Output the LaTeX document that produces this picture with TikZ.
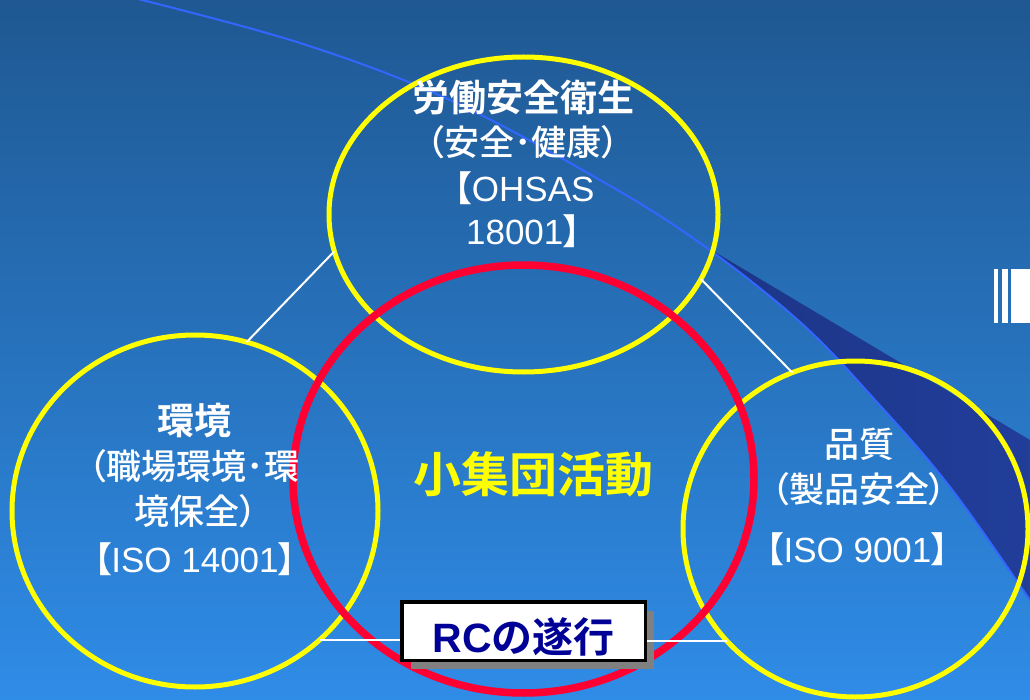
\documentclass[tikz,border=0pt]{standalone}
\usepackage{fontspec}
\usetikzlibrary{shapes.geometric,shadows}
\newfontfamily\jp[RawFeature=+palt,BoldFont={Noto Sans CJK JP Bold}]{Noto Sans CJK JP Medium}
\newfontfamily\lat{Liberation Sans}
\definecolor{bgtop}{RGB}{31,88,146}
\definecolor{bgbot}{RGB}{47,140,231}
\definecolor{curveblue}{RGB}{51,102,255}
\definecolor{navyA}{RGB}{27,50,128}
\definecolor{navyB}{RGB}{33,62,155}
\definecolor{ringyellow}{RGB}{255,255,0}
\definecolor{ringred}{RGB}{255,0,51}
\definecolor{rcblue}{RGB}{0,0,150}
\definecolor{shadowgray}{RGB}{128,128,128}
\newcommand{\lb}{\textbf{【}}
\newcommand{\rb}{\textbf{】}}
\begin{document}
\begin{tikzpicture}[x=1pt,y=-1pt,
  ring/.style={ellipse, draw=ringyellow, line width=5pt, inner sep=0pt, outer sep=0pt},
  redring/.style={ellipse, draw=ringred, line width=7.5pt, inner sep=0pt, outer sep=0pt},
  link/.style={draw=white, line width=2pt},
  lbl/.style={text=white, anchor=base, inner sep=0pt, font=\jp\fontsize{35}{40}\selectfont},
  lblb/.style={lbl, font=\jp\bfseries\fontsize{37}{40}\selectfont},
  centertext/.style={text=ringyellow, anchor=base, inner sep=0pt, font=\jp\bfseries\fontsize{48}{50}\selectfont},
  rcbox/.style={draw=black, line width=3.5pt, fill=white, minimum width=243.5pt, minimum height=58.5pt,
    inner sep=0pt, text=rcblue, text height=42pt, text depth=0pt,
    font=\jp\bfseries\fontsize{41}{41}\selectfont,
    drop shadow={shadow xshift=9pt, shadow yshift=-9pt, fill=shadowgray, opacity=1}}
]
\useasboundingbox (0,0) rectangle (1030,700);
\begin{scope}
\clip (0,0) rectangle (1030,700);
% background
\shade[top color=bgtop, bottom color=bgbot] (0,0) rectangle (1030,700);
% navy swoosh
\begin{scope}
\clip plot[smooth, tension=0.6] coordinates {(130,-3) (300,43) (450,100) (600,180) (700,243) (800,322) (875,400) (950,487) (1030,600) (1045,622)} -- (1045,-10) -- cycle;
\shade[left color=navyA, right color=navyB] (600,183.5) -- (1045,449) -- (1045,710) -- (600,710) -- cycle;
\end{scope}
% thin blue curve
\draw[curveblue, line width=2pt] plot[smooth, tension=0.6] coordinates {(130,-3) (300,43) (450,100) (600,180) (700,243) (800,322) (875,400) (950,487) (1030,600) (1045,622)};
% white bars at right
\fill[white] (994,269) rectangle (998,323);
\fill[white] (1001.5,269) rectangle (1008,323);
\fill[white] (1011,269) rectangle (1030,323);

% circles
\node[ring, minimum width=389pt, minimum height=315pt] (safety) at (523.5,214.5) {};
\node[ring, minimum width=366pt, minimum height=352pt] (env) at (195,511) {};
\node[ring, minimum width=345pt, minimum height=336pt] (qual) at (855.5,529) {};

% connectors between the outer circles
\draw[link] (env.73.6) -- (safety.191.5);
\draw[link] (safety.340.9) -- (qual.112.6);

% red circle
\node[redring, minimum width=461pt, minimum height=428pt] (rc) at (523.5,479) {};

% RC box and its connectors
\node[rcbox] (box) at (523.5,631) {{\lat RC}の遂行};
\draw[link] (env.-46) -- (env.-46 -| box.west);
\draw[link] (qual.221 -| box.east) -- (qual.221);

% labels
\node[lblb] (s1) at (523,112) {労働安全衛生};
\node[lbl] (s2) at (523,156) {（安全･健康）};
\node[lbl] (s3) at (524.5,202) {\lb{\lat OHSAS}};
\node[lbl] (s4) at (523.5,245) {{\lat 18001}\rb};

\node[lblb] (e1) at (194,434) {環境};
\node[lbl] (e2) at (194,479) {（職場環境･環};
\node[lbl] (e3) at (196,524) {境保全）};
\node[lbl] (e4) at (195,572) {\lb{\lat ISO 14001}\rb};

\node[lbl] (q1) at (859,457) {品質};
\node[lbl] (q2) at (859,502) {（製品安全）};
\node[lbl] (q3) at (857.5,562) {\lb{\lat ISO 9001}\rb};

\node[centertext] (core) at (533,492) {小集団活動};
\end{scope}
\end{tikzpicture}
\end{document}
